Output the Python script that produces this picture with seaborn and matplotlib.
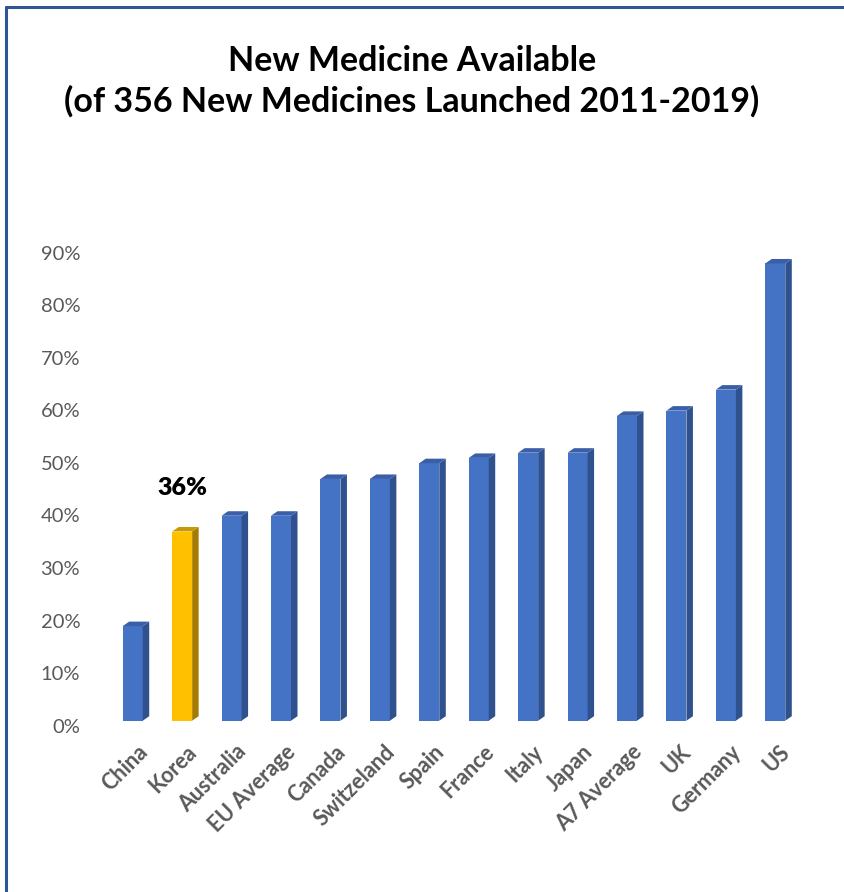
import matplotlib
matplotlib.use("Agg")
import matplotlib.pyplot as plt
import seaborn as sns
import pandas as pd
from matplotlib.patches import Polygon
from matplotlib.lines import Line2D
from matplotlib.ticker import FuncFormatter
import matplotlib.transforms as mtrans

countries = ["China", "Korea", "Australia", "EU Average", "Canada", "Switzeland",
             "Spain", "France", "Italy", "Japan", "A7 Average", "UK", "Germany", "US"]
values = [18, 36, 39, 39, 46, 46, 49, 50, 51, 51, 58, 59, 63, 87]
highlight = "Korea"
highlight_label = "36%"
yticks = [0, 10, 20, 30, 40, 50, 60, 70, 80, 90]
title_text = "New Medicine Available\n(of 356 New Medicines Launched 2011-2019)"

BLUE_FRONT, BLUE_SIDE, BLUE_TOP = "#4472C4", "#2F528F", "#3A5FA8"
GOLD_FRONT, GOLD_SIDE, GOLD_TOP = "#FFC000", "#A67C00", "#C99A00"

sns.set_theme(style="white")
plt.rcParams["font.family"] = ["Lato", "DejaVu Sans"]

W, H = 844, 892
fig = plt.figure(figsize=(W / 100, H / 100), dpi=100)
ax_left, ax_right, ax_bot, ax_top = 108, 800, 720.7, 247.7
ax = fig.add_axes([ax_left / W, 1 - ax_bot / H, (ax_right - ax_left) / W, (ax_bot - ax_top) / H])

df = pd.DataFrame({"country": countries, "value": values})
palette = {c: (GOLD_FRONT if c == highlight else BLUE_FRONT) for c in countries}
sns.barplot(data=df, x="country", y="value", hue="country", palette=palette,
            legend=False, width=0.405, ax=ax, saturation=1, linewidth=0)

ax.set_xlim(-0.5, len(countries) - 0.5)
ax.set_ylim(0, 90)

px_x = (ax_right - ax_left) / len(countries)
px_y = (ax_bot - ax_top) / 90.0
dx = 6.5 / px_x
dy = 4.5 / px_y

for p, c in zip(ax.patches, countries):
    x0 = p.get_x(); w = p.get_width(); h = p.get_height()
    x1 = x0 + w
    side_c = GOLD_SIDE if c == highlight else BLUE_SIDE
    top_c = GOLD_TOP if c == highlight else BLUE_TOP
    side = Polygon([(x1, 0), (x1, h), (x1 + dx, h + dy), (x1 + dx, dy)],
                   closed=True, facecolor=side_c, edgecolor="none", clip_on=False)
    top = Polygon([(x0, h), (x1, h), (x1 + dx, h + dy), (x0 + dx, h + dy)],
                  closed=True, facecolor=top_c, edgecolor="none", clip_on=False)
    ax.add_patch(side)
    ax.add_patch(top)
    p.set_clip_on(False)

# highlight annotation
hi = countries.index(highlight)
ax.text(hi, values[hi] + 8.3, highlight_label, ha="center", va="center",
        fontsize=18, fontweight="heavy", color="black")

ax.set_yticks(yticks)
ax.yaxis.set_major_formatter(FuncFormatter(lambda v, _: f"{int(v)}%"))
ax.tick_params(axis="y", length=0, pad=20, labelsize=14.5, labelcolor="#595959")
ax.tick_params(axis="x", length=0, pad=6, labelsize=15.5, labelcolor="#595959")
off = mtrans.ScaledTranslation(0, -5 / 100, fig.dpi_scale_trans)
for lab in ax.get_yticklabels():
    lab.set_transform(lab.get_transform() + off)
ax.set_xticks(range(len(countries)))
ax.set_xticklabels(countries, rotation=45, ha="right", rotation_mode="anchor",
                   fontweight="bold")
xoff = mtrans.ScaledTranslation(4 / 100, -12 / 100, fig.dpi_scale_trans)
for lab in ax.get_xticklabels():
    lab.set_transform(lab.get_transform() + xoff)
ax.set_xlabel("")
ax.set_ylabel("")
for s in ax.spines.values():
    s.set_visible(False)
ax.grid(False)

fig.text(412 / W, 1 - 81 / H, title_text, ha="center", va="center",
         fontsize=24.5, fontweight="bold", color="black", linespacing=1.3)

# frame lines (left and top)
fig.add_artist(Line2D([5.5 / W, 5.5 / W], [0, 1 - 7 / H], transform=fig.transFigure,
                      color="#2F5597", linewidth=2.2))
fig.add_artist(Line2D([5.5 / W, 1], [1 - 7 / H, 1 - 7 / H], transform=fig.transFigure,
                      color="#2F5597", linewidth=2.2))

fig.savefig("out.png", dpi=100)
